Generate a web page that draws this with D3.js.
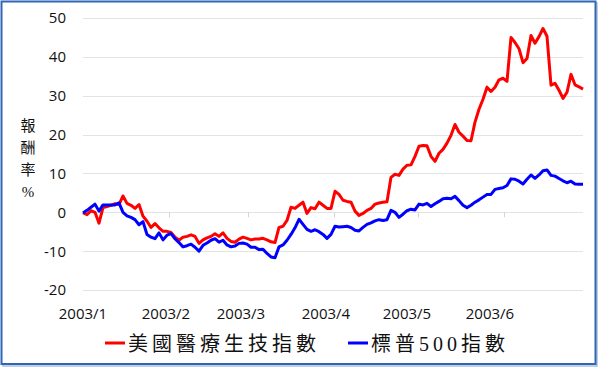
<!DOCTYPE html>
<html>
<head>
<meta charset="utf-8">
<script src="https://cdn.jsdelivr.net/npm/d3@7"></script>
<style>
  body { margin: 0; background: #fff; }
  svg { display: block; }
</style>
</head>
<body>
<svg id="chart" width="600" height="370"></svg>
<script>
// trading-day returns (%), Jan - Jun 2003
var biotech = [
  -0.1, -0.6, 0.4, 0.0, -2.8, 1.2, 1.5, 1.8, 2.2, 2.0,
  4.2, 2.3, 1.8, 1.0, 2.0, -1.0, -2.3, -3.9, -2.9, -4.0,
  -4.9, -4.9, -5.2, -6.4, -7.2, -6.4, -6.2, -5.8, -6.2, -8.0,
  -7.1, -6.6, -6.2, -5.5, -6.2, -5.3, -6.7, -7.5, -7.7, -6.9,
  -6.4, -6.7, -7.1, -6.9, -6.9, -6.7, -7.1, -7.6, -7.8, -3.9,
  -3.6, -2.1, 1.3, 1.0, 1.8, 2.6, -0.3, 1.2, 0.9, 2.6,
  1.8, 1.0, 1.0, 5.4, 4.6, 3.1, 2.8, 2.6, 0.3, -0.8,
  -0.3, 0.5, 1.0, 2.1, 2.4, 2.6, 2.7, 9.0, 9.8, 9.5,
  11.1, 12.1, 12.2, 14.4, 17.0, 17.2, 17.1, 14.4, 13.1, 15.2,
  16.2, 17.8, 19.8, 22.6, 20.6, 19.6, 18.5, 18.4, 23.2, 26.5,
  29.1, 32.2, 31.1, 32.2, 34.1, 34.5, 33.7, 45.0, 43.7, 42.1,
  38.5, 39.6, 45.5, 43.5, 45.2, 47.3, 45.3, 32.7, 33.2, 31.4,
  29.3, 30.9, 35.5, 32.8, 32.3, 31.7
];

var sp500 = [
  -0.2, 0.5, 1.3, 2.1, 0.3, 1.9, 1.9, 1.9, 1.9, 2.4,
  0.0, -0.9, -1.3, -1.9, -3.2, -2.4, -5.7, -6.4, -6.8, -5.3,
  -7.1, -5.9, -5.5, -6.8, -7.8, -8.9, -8.6, -8.2, -9.0, -10.0,
  -8.5, -7.9, -7.2, -6.8, -7.7, -7.2, -8.4, -8.9, -8.7, -8.0,
  -7.9, -8.2, -9.0, -9.0, -9.6, -9.5, -10.6, -11.5, -11.7, -8.9,
  -8.4, -7.2, -5.7, -4.0, -1.8, -3.1, -4.4, -4.9, -4.5, -5.0,
  -5.7, -6.7, -5.7, -3.6, -3.8, -3.7, -3.6, -3.9, -4.6, -4.8,
  -3.9, -3.1, -2.7, -2.2, -1.9, -2.1, -1.9, 0.5, 0.0, -1.3,
  -0.5, 0.4, 0.8, 0.6, 2.1, 1.9, 2.3, 1.5, 2.2, 2.8,
  3.5, 3.6, 3.5, 4.1, 3.0, 1.8, 1.2, 1.8, 2.6, 3.2,
  3.9, 4.6, 4.6, 5.9, 6.1, 6.3, 6.9, 8.6, 8.5, 8.0,
  7.3, 8.5, 9.6, 8.7, 9.6, 10.7, 10.9, 9.5, 9.3, 8.7,
  8.1, 7.6, 8.0, 7.3, 7.2, 7.2
];

var monthLabels = ['2003/1', '2003/2', '2003/3', '2003/4', '2003/5', '2003/6'];
var monthLabelPos = [0, 20.75, 39.5, 60.75, 81, 101.75];   // day index of label
var monthTickPos = [21.5, 41.25, 62.75, 83.75, 105.25];    // day index of tick mark
var yTicks = [-20, -10, 0, 10, 20, 30, 40, 50];
var yTitle = ['報', '酬', '率', '%'];

var seriesNames = ['美國醫療生技指數', '標普500指數'];
var seriesColors = ['#ff0000', '#0000ff'];

var svg = d3.select('#chart');

// frame
svg.append('rect')
  .attr('x', 3).attr('y', 3)
  .attr('width', 594).attr('height', 363)
  .attr('fill', 'none')
  .attr('stroke', '#a9bfdf')
  .attr('stroke-width', 1.5);
svg.append('rect')
  .attr('x', 1.5).attr('y', 1.5)
  .attr('width', 594).attr('height', 362.5)
  .attr('fill', '#fff')
  .attr('stroke', '#2f67b5')
  .attr('stroke-width', 2);

var x = d3.scaleLinear()
  .domain([0, biotech.length - 1])
  .range([83, 583]);

var y = d3.scaleLinear()
  .domain([-20, 50])
  .range([290, 18]);

// gridlines
svg.append('g').selectAll('line')
  .data(yTicks)
  .enter().append('line')
  .attr('x1', 83).attr('x2', 583)
  .attr('y1', (d) => Math.round(y(d)) + 0.5)
  .attr('y2', (d) => Math.round(y(d)) + 0.5)
  .attr('stroke', '#e3e3e3')
  .attr('stroke-width', 1.2);

// y labels
svg.append('g').selectAll('text')
  .data(yTicks)
  .enter().append('text')
  .attr('x', 66)
  .attr('y', (d) => y(d))
  .attr('dy', '0.36em')
  .attr('text-anchor', 'end')
  .attr('font-family', '"Open Sans", sans-serif')
  .attr('font-size', 15)
  .attr('fill', '#111')
  .text((d) => d);

// x tick marks on zero line
svg.append('g').selectAll('line')
  .data(monthTickPos)
  .enter().append('line')
  .attr('x1', (d) => Math.round(x(d)) + 0.5)
  .attr('x2', (d) => Math.round(x(d)) + 0.5)
  .attr('y1', y(0))
  .attr('y2', y(0) + 5)
  .attr('stroke', '#d4d4d4')
  .attr('stroke-width', 1);

// x labels
svg.append('g').selectAll('text')
  .data(monthLabels)
  .enter().append('text')
  .attr('x', (d, i) => x(monthLabelPos[i]))
  .attr('y', 319)
  .attr('text-anchor', 'middle')
  .attr('font-family', '"Open Sans", sans-serif')
  .attr('font-size', 15)
  .attr('fill', '#111')
  .text((d) => d);

// y title, stacked
svg.append('g').selectAll('text')
  .data(yTitle)
  .enter().append('text')
  .attr('x', 28)
  .attr('y', (d, i) => 131 + i * 22)
  .attr('text-anchor', 'middle')
  .attr('font-family', '"Liberation Serif", "Noto Sans CJK TC", serif')
  .attr('font-size', 15)
  .attr('fill', '#111')
  .text((d) => d);

// lines
var line = d3.line()
  .x((d, i) => x(i))
  .y((d) => y(d));

[biotech, sp500].forEach((s, k) => {
  svg.append('path')
    .datum(s)
    .attr('d', line)
    .attr('fill', 'none')
    .attr('stroke', seriesColors[k])
    .attr('stroke-width', 3)
    .attr('stroke-linejoin', 'round');
});

// legend
var legendX = [105, 348];
var leg = svg.append('g').selectAll('g')
  .data(seriesNames)
  .enter().append('g')
  .attr('transform', (d, i) => 'translate(' + legendX[i] + ',343)');

leg.append('line')
  .attr('x1', 0).attr('x2', 20)
  .attr('stroke', (d, i) => seriesColors[i])
  .attr('stroke-width', 3);

leg.append('text')
  .attr('x', 23)
  .attr('y', 8)
  .attr('font-family', '"Liberation Serif", "Noto Sans CJK TC", serif')
  .attr('font-size', 20)
  .attr('letter-spacing', 4)
  .attr('fill', '#111')
  .text((d) => d);
</script>
</body>
</html>
